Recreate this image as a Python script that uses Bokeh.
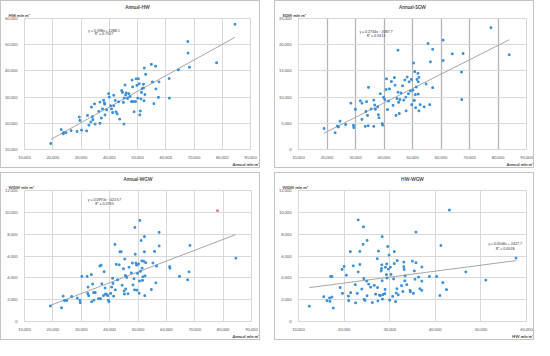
from bokeh.plotting import figure
from bokeh.layouts import row, column
from bokeh.models import Range1d, SingleIntervalTicker, NumeralTickFormatter, Title, Spacer
from bokeh.core.properties import value
from bokeh.embed import file_html
from bokeh.resources import INLINE

FONT = "Lato"

# ---------------- data ----------------
annual_hw = [(19300,12300),(23000,17600),(23800,16400),(23700,16000),(24700,16400),(26500,17200),(28600,16900),
    (30200,17400),(29400,22400),(29600,21100),(32000,17100),(32300,23000),(32800,19300),(33500,20500),(33700,26200),
    (34000,22500),(34200,21400),(34800,27400),(35000,19700),(36300,24600),(36700,28100),(36700,20000),(37200,22000),
    (37600,25500),(38000,28800),(38300,27800),(38400,27300),(38500,23200),(39100,25100),(39800,31300),(40000,30000),
    (40500,26700),(40800,25500),(41200,24100),(41600,30700),(41600,26700),(42100,28700),(42400,24400),(42800,23600),
    (43300,28200),(43700,21600),(44400,32500),(44700,31800),(45000,28000),(45200,19700),(45300,29600),(45600,34600),
    (45800,30800),(46000,31600),(46500,29500),(46900,31300),(47400,30200),(47900,28300),(48100,36500),(48300,33900),
    (48500,28300),(48800,24400),(49300,28300),(49500,37000),(49800,34500),(50100,29600),(50300,37000),(50600,35100),
    (50800,23200),(51000,24700),(51200,29300),(51400,31800),(51600,33200),(52100,33500),(52100,34900),(52300,28600),
    (52400,41100),(52600,31000),(52900,38700),(54900,42500),(55300,35800),(55800,27500),(56400,41800),(56500,33100),
    (57400,29900),(57600,35800),(61200,37100),(61300,29600),(64500,40400),(67800,51200),(67900,46800),(68400,41400),
    (78000,43100),(84500,57800)]

annual_sgw = [(18960,4010),(22860,3200),(23660,4480),(24000,4300),(24580,5410),(26530,4770),(28370,8840),(29300,4600),
    (29400,4190),(29980,7670),(31700,9300),(32270,8840),(32270,5760),(33420,4420),(33650,7270),(33880,9130),(34220,6510),
    (34450,4530),(34570,11860),(35490,7730),(36410,4420),(36410,9420),(36750,8490),(36980,7670),(37780,8140),(38010,6630),
    (38240,6050),(38700,10640),(39390,4940),(39510,4650),(39850,9940),(40310,9530),(40770,11450),(40880,13490),(41230,7620),
    (41570,9240),(41920,11570),(42610,12970),(43180,8430),(43640,13720),(43870,12270),(44210,6510),(44560,9710),(44900,10930),
    (44900,18950),(45130,9010),(45360,6860),(45590,9530),(45940,10810),(46510,12150),(46970,9420),(47310,13260),(47660,10000),
    (47770,7380),(48120,13840),(48580,10640),(48810,12910),(49270,11160),(49610,13370),(49720,8550),(50180,11340),(50410,16510),
    (50640,9360),(50760,14880),(50990,10470),(51100,7970),(51330,11920),(51560,13370),(51910,14530),(52020,10580),(52250,7380),
    (52700,8550),(52020,12910),(52250,13780),(54090,8140),(54780,12500),(55460,20230),(56040,8550),(56270,16740),(57070,19130),
    (57070,11800),(60750,20870),(60750,16980),(63960,18260),(67180,14770),(67290,9530),(67750,18310),(77510,23260),(83940,18080)]

annual_wgw = [(19120,1420),(23050,1260),(23630,2320),(24090,1920),(24900,1920),(26630,2290),(28590,2150),(29520,1950),
    (29630,1730),(30210,4130),(32060,4130),(32400,3150),(32290,2570),(32630,2370),(33560,4300),(33670,1810),(34020,3430),
    (34370,2650),(34480,1950),(34940,2650),(36100,2090),(36560,5080),(36790,2090),(37020,5160),(37250,3460),(37830,2370),
    (38060,4570),(38410,3070),(38520,2510),(38870,2510),(39330,2370),(39560,1950),(39790,1810),(40370,2570),(40720,3150),
    (41060,3960),(41180,3490),(41410,2320),(41870,7060),(41990,2900),(42330,5240),(42790,3820),(43370,5190),(43600,6390),
    (44060,6390),(44410,3320),(44870,4830),(45100,2790),(45220,2510),(45340,5720),(45570,4210),(45680,2980),(46030,4040),
    (46490,2540),(46840,4970),(47640,4460),(47990,5360),(48220,3350),(48570,3910),(48800,2900),(48910,8620),(49030,6160),
    (49260,5360),(49490,5160),(49610,2870),(49840,4410),(50190,5270),(50420,2590),(50530,3710),(50650,9260),(50880,4600),
    (51110,7420),(51340,5550),(51460,4880),(51570,3770),(51690,4100),(52030,5520),(52260,7780),(52260,6390),(52380,2370),
    (52490,4180),(52730,5380),(54690,2930),(55270,5360),(55840,6420),(56300,3540),(56540,5080),(57460,8170),(57460,6920),
    (61160,5020),(61270,4880),(64620,4130),(67510,3820),(67970,4550),(68310,6970),(84480,5800)]
annual_wgw_highlight = [(78010,10150)]

hw_wgw = [(12370,1400),(15540,2270),(16260,1910),(16830,2160),(16900,1850),(17050,4120),(17340,4120),(17340,2240),
    (17630,1230),(19140,3110),(19570,4770),(19640,2580),(20000,5050),(20500,4240),(20940,2330),(21010,1910),(21370,6400),
    (21440,2640),(22010,5100),(22450,3370),(22520,1710),(22880,2580),(23090,9310),(23090,4540),(23450,5220),(23450,6420),
    (23880,2970),(24170,7070),(24240,8670),(24320,3930),(24390,2020),(24600,1940),(24960,3700),(25040,7430),(25040,2360),
    (25400,3420),(25830,3140),(26190,1740),(26620,3310),(26910,2500),(27270,5750),(27340,3110),(27410,1880),(27550,6450),
    (27700,2410),(27990,2380),(28130,4630),(28200,4850),(28270,5190),(28350,3730),(28350,7770),(28420,2050),(28560,2470),
    (28920,2550),(28990,2950),(29060,4970),(29280,4290),(29350,5270),(29420,3980),(29570,6870),(29710,4800),(29860,6090),
    (30000,1960),(30140,4970),(30290,4320),(30650,2300),(30860,3900),(31010,5300),(31010,6400),(31290,1820),(31440,2610),
    (31580,3000),(31650,5580),(31870,2440),(32590,3280),(32880,2750),(33090,5440),(33090,5020),(33170,4770),(33310,3730),
    (33380,4180),(33740,3370),(34460,2860),(34530,2720),(34960,5530),(35180,2580),(35400,4630),(35540,3870),(35760,5390),
    (35760,8190),(36330,4070),(36620,3000),(37050,3700),(37050,4990),(37050,2860),(38710,4120),(40290,4120),(41010,2380),
    (41220,6960),(41650,3560),(42450,2920),(43090,10210),(46690,4540),(51080,3790),(57700,5810)]

titles = ["Annual-HW", "Annual-SGW", "Annual-WGW", "HW-WGW"]
x_labels = ["Annual mln m³", "Annual mln m³", "Annual mln m³", "HW mln m³"]
y_labels = ["HW mln m³", "SGW mln m³", "WGW mln m³", "WGW mln m³"]
slopes = [0.598, 0.2744, 0.0993, 0.0546]
intercepts = [2288.1, -2087.7, -422.57, 2427.7]
equations = ["y = 0.598x + 2288.1", "y = 0.2744x - 2087.7", "y = 0.0993x - 422.57", "y = 0.0546x + 2427.7"]
r_squared = ["R² = 0.7557", "R² = 0.5413", "R² = 0.3765", "R² = 0.0538"]

PT = "#3a8fd8"
GRID = "#d9d9d9"
TXT = "#595959"


def panel(idx, pts, xr, yr, xint, yint, eq_xy, geom, xgrid_color=GRID, xgrid_w=1, extra=None):
    W, H, bl, br, bt, bb = geom
    p = figure(width=W, height=H, output_backend="svg", toolbar_location=None, title=None,
               x_range=Range1d(*xr), y_range=Range1d(*yr),
               min_border_left=bl, min_border_right=br, min_border_top=bt, min_border_bottom=bb)
    p.styles = {"border": "1px solid #c4c4c4", "box-sizing": "border-box"}
    p.outline_line_color = GRID
    p.background_fill_color = "white"
    p.border_fill_color = "white"
    p.xaxis.ticker = SingleIntervalTicker(interval=xint)
    p.yaxis.ticker = SingleIntervalTicker(interval=yint)
    for ax in (p.xaxis, p.yaxis):
        ax.formatter = NumeralTickFormatter(format="0,0")
        ax.major_label_text_font = FONT
        ax.major_label_text_font_size = "4px"
        ax.major_label_text_color = TXT
        ax.axis_line_color = GRID
        ax.major_tick_line_color = None
        ax.minor_tick_line_color = None
        ax.major_tick_out = 0
        ax.major_tick_in = 0
        ax.major_label_standoff = 3
    p.xaxis.major_label_standoff = 2
    p.xgrid.ticker = SingleIntervalTicker(interval=xint)
    p.ygrid.ticker = SingleIntervalTicker(interval=yint)
    p.xgrid.grid_line_color = xgrid_color
    p.xgrid.grid_line_width = xgrid_w
    p.ygrid.grid_line_color = GRID

    xs = [a for a, b in pts]
    ys = [b for a, b in pts]
    x0, x1 = min(xs), max(xs)
    if extra:
        x0 = min(x0, min(a for a, b in extra))
        x1 = max(x1, max(a for a, b in extra))
    p.line([x0, x1], [slopes[idx] * x0 + intercepts[idx], slopes[idx] * x1 + intercepts[idx]],
           line_color="#a6a6a6", line_width=1)
    p.scatter(xs, ys, marker="square", size=1.7, color=PT)
    if extra:
        p.scatter([a for a, b in extra], [b for a, b in extra], marker="square", size=1.7, color="#e07a96")

    ex, ey1, ey2 = eq_xy
    p.text([ex, ex], [ey1, ey2], text=[equations[idx], r_squared[idx]], text_font=value(FONT),
           text_font_size="3.6px", text_color="#404040", text_align="center", text_baseline="middle")

    # y-axis caption (closest to frame), then chart title above it
    p.add_layout(Title(text=y_labels[idx], align="left", offset=-16, standoff=2,
                       text_font=FONT, text_font_size="4.2px", text_font_style="bold",
                       text_color="#404040"), "above")
    p.add_layout(Title(text=titles[idx], align="center", standoff=0,
                       text_font=FONT, text_font_size="4.6px", text_font_style="bold",
                       text_color="#404040"), "above")
    p.add_layout(Title(text=x_labels[idx], align="right", offset=-(br - 2), standoff=1,
                       vertical_align="top",
                       text_font=FONT, text_font_size="4.2px", text_font_style="bold",
                       text_color="#404040"), "below")
    return p


p1 = panel(0, annual_hw, (10000, 90000), (10000, 60000), 10000, 10000, (38140, 55560, 54280),
           (260, 168, 20, 11, 16, 14))
p2 = panel(1, annual_sgw, (10000, 90000), (0, 25000), 10000, 5000, (37210, 22500, 21740),
           (260, 168, 21, 9, 16, 14), xgrid_color="#b5b5b5", xgrid_w=1.3)
p3 = panel(2, annual_wgw, (10000, 90000), (0, 12000), 10000, 2000, (38180, 11210, 10850),
           (260, 168, 19, 10, 15, 14), extra=annual_wgw_highlight)
p4 = panel(3, hw_wgw, (10000, 60000), (0, 12000), 10000, 2000, (55320, 7150, 6730),
           (260, 168, 21, 9, 15, 14))

layout = column(row(p1, Spacer(width=14), p2), Spacer(height=4), row(p3, Spacer(width=14), p4))

open("out.html", "w").write(file_html(layout, INLINE))
